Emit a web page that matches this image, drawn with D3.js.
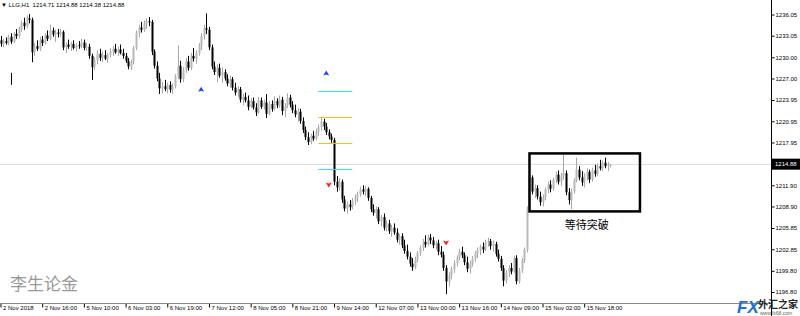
<!DOCTYPE html>
<html>
<head>
<meta charset="utf-8">
<script src="https://cdn.jsdelivr.net/npm/d3@7"></script>
<style>
  body { margin: 0; background: #fff; }
  svg { display: block; font-family: "Liberation Sans", Arial, sans-serif; }
</style>
</head>
<body>
<div id="chart"></div>
<script>
// LLG H1 bars
const opens = [
  1232.4,1231.9,1232.3,1232.0,1232.9,1232.2,1233.3,1233.0,1234.0,1234.9,
  1234.4,1235.5,1235.3,1230.7,1231.6,1231.2,1232.5,1232.0,1233.1,1232.6,
  1233.8,1233.2,1233.5,1233.3,1233.6,1231.4,1231.8,1231.5,1231.9,1231.3,
  1231.7,1231.6,1232.1,1231.3,1231.5,1230.2,1228.6,1229.6,1230.5,1229.9,
  1230.3,1229.8,1230.4,1230.8,1231.2,1230.7,1231.1,1230.6,1230.2,1229.5,
  1228.7,1229.3,1231.3,1233.4,1234.2,1233.9,1234.8,1235.1,1235.0,1230.8,
  1228.8,1227.0,1225.6,1225.9,1225.5,1226.1,1225.4,1225.9,1227.3,1228.8,
  1226.9,1228.2,1229.4,1228.5,1230.2,1229.8,1230.6,1231.6,1233.0,1234.1,
  1233.9,1231.4,1228.7,1227.9,1228.5,1227.4,1227.9,1227.0,1226.3,1226.9,
  1225.7,1225.0,1225.5,1224.0,1224.4,1223.9,1223.0,1223.8,1222.9,1222.2,
  1223.9,1223.0,1223.6,1222.0,1223.4,1222.7,1223.8,1223.2,1224.0,1222.4,
  1223.1,1224.3,1223.3,1222.5,1221.9,1222.3,1221.0,1219.7,1218.7,1218.0,
  1218.9,1218.5,1219.5,1220.1,1220.9,1220.2,1219.4,1218.8,1218.3,1212.4,
  1211.6,1212.4,1209.9,1208.6,1209.2,1208.8,1209.7,1210.2,1210.6,1211.3,
  1211.0,1211.4,1210.1,1208.5,1208.0,1208.5,1206.8,1207.4,1205.9,1206.5,
  1205.4,1205.9,1205.2,1204.2,1204.7,1203.4,1202.6,1201.8,1200.8,1200.3,
  1201.4,1202.3,1203.0,1203.9,1203.5,1204.5,1204.1,1203.4,1203.7,1202.5,
  1202.1,1200.2,1198.3,1199.2,1200.0,1200.9,1201.7,1202.5,1202.0,1201.0,
  1200.1,1200.8,1201.5,1202.2,1202.7,1203.2,1202.8,1203.8,1204.0,1203.3,
  1203.6,1202.2,1201.5,1200.2,1198.4,1199.5,1200.2,1199.7,1201.6,1198.3,
  1199.9,1201.3,1202.8,1208.5,1213.0,1211.0,1211.5,1210.3,1209.5,1210.2,
  1211.3,1212.0,1211.4,1212.7,1213.4,1212.4,1213.2,1213.6,1210.9,1209.8,
  1211.0,1212.6,1214.1,1213.0,1212.3,1213.2,1213.8,1212.7,1214.0,1213.5,
  1214.6,1214.3,1215.1,1214.6,1214.71
]
const highs = [
  1233.0,1232.6,1232.8,1233.2,1233.4,1233.6,1234.0,1234.3,1235.2,1235.6,
  1235.9,1236.1,1235.6,1232.0,1232.4,1232.9,1233.0,1233.4,1233.8,1234.6,
  1234.2,1233.9,1234.0,1234.0,1233.8,1232.1,1232.5,1232.2,1232.4,1232.0,
  1232.3,1232.6,1232.5,1232.0,1231.9,1230.5,1230.0,1231.0,1231.2,1230.8,
  1231.0,1230.6,1231.3,1231.6,1231.9,1231.5,1231.8,1231.2,1230.6,1229.9,
  1229.6,1231.6,1233.8,1234.6,1235.0,1235.2,1235.5,1235.7,1235.3,1231.1,
  1229.4,1227.8,1226.5,1226.8,1226.4,1226.6,1226.3,1227.6,1231.7,1229.5,
  1228.6,1229.9,1230.2,1230.6,1231.3,1231.0,1232.0,1233.4,1234.6,1236.2,
  1234.3,1231.8,1229.4,1229.0,1229.1,1228.6,1228.3,1227.6,1227.4,1227.2,
  1226.4,1225.9,1225.8,1224.8,1225.0,1224.6,1224.2,1224.3,1223.5,1224.4,
  1224.3,1224.0,1224.8,1223.8,1223.9,1224.5,1224.2,1224.6,1224.4,1223.5,
  1224.9,1224.7,1223.8,1223.3,1222.8,1222.7,1221.5,1220.2,1219.4,1219.2,
  1219.6,1219.9,1220.5,1221.6,1221.3,1220.7,1219.8,1219.2,1218.6,1213.2,
  1212.9,1212.7,1210.4,1209.6,1209.8,1210.1,1210.6,1211.0,1211.7,1211.9,
  1211.8,1211.6,1210.4,1209.2,1208.9,1208.8,1207.7,1207.9,1206.9,1207.0,
  1206.3,1206.5,1205.8,1205.0,1205.1,1204.2,1203.5,1202.4,1201.6,1201.8,
  1202.6,1203.4,1204.3,1204.8,1204.9,1205.0,1204.6,1204.0,1204.2,1203.3,
  1202.5,1200.6,1199.6,1200.4,1201.3,1202.0,1202.9,1203.2,1202.4,1201.8,
  1201.2,1201.9,1202.6,1203.1,1203.5,1203.8,1204.2,1204.5,1204.3,1204.1,
  1203.9,1202.8,1201.9,1200.6,1199.9,1200.6,1200.9,1201.9,1202.0,1200.2,
  1201.6,1203.1,1208.9,1213.5,1213.3,1212.0,1211.9,1211.0,1210.6,1211.6,
  1212.4,1212.6,1213.0,1213.8,1214.0,1213.6,1216.5,1214.0,1211.5,1211.4,
  1212.9,1215.8,1214.6,1213.9,1213.6,1214.3,1214.1,1214.4,1214.8,1215.0,
  1215.5,1215.4,1215.8,1215.2,1214.88
]
const lows = [
  1231.5,1231.4,1231.8,1231.7,1231.9,1232.0,1232.6,1232.7,1233.6,1233.9,
  1234.1,1234.8,1229.3,1230.2,1230.9,1230.9,1231.6,1231.8,1232.3,1232.4,
  1232.9,1232.2,1232.8,1232.9,1231.0,1230.6,1231.2,1230.9,1231.1,1230.8,
  1231.2,1231.3,1231.0,1230.9,1229.8,1226.8,1228.2,1229.0,1229.5,1229.3,
  1229.6,1229.2,1230.0,1230.2,1230.5,1230.2,1230.4,1229.8,1229.2,1228.3,
  1228.2,1229.0,1231.0,1232.8,1233.5,1233.6,1234.0,1234.4,1230.3,1228.4,
  1226.6,1224.8,1224.9,1225.2,1224.9,1225.0,1224.8,1225.6,1226.9,1226.4,
  1226.5,1227.8,1228.1,1228.2,1229.4,1229.1,1230.2,1231.0,1232.5,1233.3,
  1231.0,1228.3,1227.5,1226.5,1227.1,1226.4,1226.7,1225.9,1225.7,1225.3,
  1224.6,1224.4,1223.6,1223.2,1223.6,1222.5,1222.8,1222.6,1221.7,1222.0,
  1222.7,1222.6,1221.4,1221.8,1222.3,1222.5,1222.8,1222.9,1221.8,1221.5,
  1222.8,1222.9,1222.1,1221.5,1220.9,1220.6,1219.3,1218.3,1217.6,1217.7,
  1218.2,1218.3,1218.9,1219.6,1219.7,1219.0,1218.4,1217.9,1211.9,1211.0,
  1211.2,1209.4,1208.2,1207.9,1208.3,1208.5,1209.1,1209.5,1210.3,1210.6,
  1210.4,1209.7,1208.1,1207.6,1207.2,1206.4,1206.1,1205.5,1205.4,1205.0,
  1204.6,1204.9,1203.8,1203.5,1203.0,1202.2,1201.4,1200.4,1199.8,1200.0,
  1201.0,1201.9,1202.6,1203.1,1203.3,1203.6,1203.0,1202.8,1202.0,1201.7,
  1199.8,1196.5,1197.6,1198.6,1199.5,1200.4,1201.3,1201.6,1200.6,1199.6,
  1199.4,1200.4,1201.1,1201.6,1202.0,1202.3,1202.6,1203.2,1202.8,1202.5,
  1201.8,1201.1,1199.8,1197.6,1198.0,1198.9,1199.3,1199.5,1197.9,1198.0,
  1199.5,1200.9,1202.4,1208.1,1210.6,1210.1,1209.9,1209.0,1208.9,1209.8,
  1210.8,1210.9,1211.1,1212.2,1212.0,1211.8,1212.7,1210.5,1209.2,1208.5,
  1210.7,1212.3,1212.6,1211.8,1211.6,1212.6,1212.2,1212.4,1213.1,1213.2,
  1214.0,1213.9,1214.3,1213.9,1214.38
]
const closes = [
  1231.9,1232.3,1232.0,1232.9,1232.2,1233.3,1233.0,1234.0,1234.9,1234.4,
  1235.5,1235.3,1230.7,1231.6,1231.2,1232.5,1232.0,1233.1,1232.6,1233.8,
  1233.2,1233.5,1233.3,1233.6,1231.4,1231.8,1231.5,1231.9,1231.3,1231.7,
  1231.6,1232.1,1231.3,1231.5,1230.2,1228.6,1229.6,1230.5,1229.9,1230.3,
  1229.8,1230.4,1230.8,1231.2,1230.7,1231.1,1230.6,1230.2,1229.5,1228.7,
  1229.3,1231.3,1233.4,1234.2,1233.9,1234.8,1235.1,1235.0,1230.8,1228.8,
  1227.0,1225.6,1225.9,1225.5,1226.1,1225.4,1225.9,1227.3,1228.8,1226.9,
  1228.2,1229.4,1228.5,1230.2,1229.8,1230.6,1231.6,1233.0,1234.1,1233.9,
  1231.4,1228.7,1227.9,1228.5,1227.4,1227.9,1227.0,1226.3,1226.9,1225.7,
  1225.0,1225.5,1224.0,1224.4,1223.9,1223.0,1223.8,1222.9,1222.2,1223.9,
  1223.0,1223.6,1222.0,1223.4,1222.7,1223.8,1223.2,1224.0,1222.4,1223.1,
  1224.3,1223.3,1222.5,1221.9,1222.3,1221.0,1219.7,1218.7,1218.0,1218.9,
  1218.5,1219.5,1220.1,1220.9,1220.2,1219.4,1218.8,1218.3,1212.4,1211.6,
  1212.4,1209.9,1208.6,1209.2,1208.8,1209.7,1210.2,1210.6,1211.3,1211.0,
  1211.4,1210.1,1208.5,1208.0,1208.5,1206.8,1207.4,1205.9,1206.5,1205.4,
  1205.9,1205.2,1204.2,1204.7,1203.4,1202.6,1201.8,1200.8,1200.3,1201.4,
  1202.3,1203.0,1203.9,1203.5,1204.5,1204.1,1203.4,1203.7,1202.5,1202.1,
  1200.2,1198.3,1199.2,1200.0,1200.9,1201.7,1202.5,1202.0,1201.0,1200.1,
  1200.8,1201.5,1202.2,1202.7,1203.2,1202.8,1203.8,1204.0,1203.3,1203.6,
  1202.2,1201.5,1200.2,1198.4,1199.5,1200.2,1199.7,1201.6,1198.3,1199.9,
  1201.3,1202.8,1208.5,1213.0,1211.0,1211.5,1210.3,1209.5,1210.2,1211.3,
  1212.0,1211.4,1212.7,1213.4,1212.4,1213.2,1213.6,1210.9,1209.8,1211.0,
  1212.6,1214.1,1213.0,1212.3,1213.2,1213.8,1212.7,1214.0,1213.5,1214.6,
  1214.3,1215.1,1214.6,1214.7,1214.88
]

// time axis labels, one every 16 bars
const timeTickBars = [0, 16, 32, 48, 64, 80, 96, 112, 128, 144, 160, 176, 192, 208, 224]
const timeTickLabels = ['2 Nov 2018', '2 Nov 16:00', '5 Nov 10:00', '6 Nov 03:00', '6 Nov 19:00',
  '7 Nov 12:00', '8 Nov 05:00', '8 Nov 21:00', '9 Nov 14:00', '12 Nov 07:00',
  '13 Nov 00:00', '13 Nov 16:00', '14 Nov 09:00', '15 Nov 02:00', '15 Nov 18:00']

const priceTicks = [1236.05, 1233.05, 1230.00, 1227.00, 1223.95, 1220.95, 1217.95,
  1211.90, 1208.90, 1205.85, 1202.85, 1199.80, 1196.80]
const lastPrice = 1214.88

// drawn objects on the chart
const upArrowBars = [77, 125]
const upArrowPrices = [1225.4, 1227.7]
const downArrowBars = [126, 171]
const downArrowPrices = [1212.0, 1203.8]
const cyanLevels = [1225.2, 1214.2]
const goldLevels = [1221.6, 1217.9]
const levelBars = [122, 135]
const boxBars = [203, 245.4]
const boxPrices = [1216.4, 1208.2]
const markBar = 4
const markPrices = [1227.8, 1226.1]

const width = 800
const height = 316
const plotRight = 771
const plotBottom = 303

const svg = d3
  .select('#chart')
  .append('svg')
  .attr('width', width)
  .attr('height', height)

const xPositionScale = d3.scaleLinear().domain([0, 224]).range([0.5, 584.2])
const yPositionScale = d3
  .scaleLinear()
  .domain([1196.8, 1236.05])
  .range([292, 14.5])

svg
  .append('defs')
  .append('clipPath')
  .attr('id', 'plot-clip')
  .append('rect')
  .attr('width', plotRight)
  .attr('height', plotBottom)

const plot = svg.append('g').attr('clip-path', 'url(#plot-clip)')

// last price line
plot
  .append('line')
  .attr('x1', 0)
  .attr('x2', plotRight)
  .attr('y1', Math.round(yPositionScale(lastPrice)) + 0.5)
  .attr('y2', Math.round(yPositionScale(lastPrice)) + 0.5)
  .attr('stroke', '#dcdcdc')

// watermark
plot
  .append('text')
  .text('李生论金')
  .attr('x', 10)
  .attr('y', 290)
  .attr('font-family', '"Noto Sans CJK SC"')
  .attr('font-size', 17)
  .attr('fill', '#9a9a9a')

const bars = d3.range(closes.length)

plot
  .selectAll('.wick')
  .data(bars)
  .enter()
  .append('line')
  .attr('class', 'wick')
  .attr('x1', i => Math.round(xPositionScale(i)) + 0.5)
  .attr('x2', i => Math.round(xPositionScale(i)) + 0.5)
  .attr('y1', i => yPositionScale(highs[i]))
  .attr('y2', i => yPositionScale(lows[i]))
  .attr('stroke', i => (closes[i] >= opens[i] ? '#a8a8a8' : '#000'))
  .attr('stroke-width', 1)

plot
  .selectAll('.body')
  .data(bars)
  .enter()
  .append('rect')
  .attr('class', 'body')
  .attr('x', i => Math.round(xPositionScale(i)) - 0.5)
  .attr('width', 2)
  .attr('y', i => yPositionScale(Math.max(opens[i], closes[i])))
  .attr('height', i =>
    Math.max(1, Math.abs(yPositionScale(opens[i]) - yPositionScale(closes[i])))
  )
  .attr('fill', i => (closes[i] >= opens[i] ? '#b8b8b8' : '#000'))

// small vertical mark near the start
plot
  .append('line')
  .attr('x1', Math.round(xPositionScale(markBar)) + 0.5)
  .attr('x2', Math.round(xPositionScale(markBar)) + 0.5)
  .attr('y1', yPositionScale(markPrices[0]))
  .attr('y2', yPositionScale(markPrices[1]))
  .attr('stroke', '#000')

// level lines
cyanLevels.forEach(p => {
  plot
    .append('line')
    .attr('x1', xPositionScale(levelBars[0]))
    .attr('x2', xPositionScale(levelBars[1]))
    .attr('y1', Math.round(yPositionScale(p)) + 0.5)
    .attr('y2', Math.round(yPositionScale(p)) + 0.5)
    .attr('stroke', '#33e0f0')
})
goldLevels.forEach(p => {
  plot
    .append('line')
    .attr('x1', xPositionScale(levelBars[0]))
    .attr('x2', xPositionScale(levelBars[1]))
    .attr('y1', Math.round(yPositionScale(p)) + 0.5)
    .attr('y2', Math.round(yPositionScale(p)) + 0.5)
    .attr('stroke', '#f0c020')
})

// arrows
plot
  .selectAll('.up-arrow')
  .data(upArrowBars)
  .enter()
  .append('path')
  .attr('class', 'up-arrow')
  .attr('transform', (d, i) =>
    'translate(' + xPositionScale(d) + ',' + yPositionScale(upArrowPrices[i]) + ')'
  )
  .attr('d', 'M0,-3 L3,2 L0,1 L-3,2 Z')
  .attr('fill', '#2040ff')

plot
  .selectAll('.down-arrow')
  .data(downArrowBars)
  .enter()
  .append('path')
  .attr('class', 'down-arrow')
  .attr('transform', (d, i) =>
    'translate(' + xPositionScale(d) + ',' + yPositionScale(downArrowPrices[i]) + ')'
  )
  .attr('d', 'M0,3 L3,-2 L0,-1 L-3,-2 Z')
  .attr('fill', '#ff2020')

// box around the consolidation
plot
  .append('rect')
  .attr('x', xPositionScale(boxBars[0]))
  .attr('y', yPositionScale(boxPrices[0]))
  .attr('width', xPositionScale(boxBars[1]) - xPositionScale(boxBars[0]))
  .attr('height', yPositionScale(boxPrices[1]) - yPositionScale(boxPrices[0]))
  .attr('fill', 'none')
  .attr('stroke', '#000')
  .attr('stroke-width', 2.5)

plot
  .append('text')
  .text('等待突破')
  .attr('x', (xPositionScale(boxBars[0]) + xPositionScale(boxBars[1])) / 2 + 2)
  .attr('y', yPositionScale(boxPrices[1]) + 18)
  .attr('text-anchor', 'middle')
  .attr('font-family', '"Noto Sans CJK SC"')
  .attr('font-size', 11)
  .attr('fill', '#000')

// header
svg
  .append('text')
  .text('▼ LLG,H1  1214.71 1214.88 1214.38 1214.88')
  .attr('x', 1)
  .attr('y', 6.5)
  .attr('font-size', 6)
  .attr('xml:space', 'preserve')
  .attr('fill', '#000')

// price axis
const yAxis = d3
  .axisRight(yPositionScale)
  .tickValues(priceTicks)
  .tickSize(3)
  .tickFormat(d3.format('.2f'))
svg
  .append('g')
  .attr('class', 'axis y-axis')
  .attr('transform', 'translate(' + (plotRight + 0.5) + ',0)')
  .call(yAxis)

svg.selectAll('.y-axis path').remove()
svg.selectAll('.y-axis text').attr('font-size', 6).attr('fill', '#000').attr('x', 4)
svg.selectAll('.y-axis line').attr('stroke', '#000')

svg
  .append('line')
  .attr('x1', plotRight + 0.5)
  .attr('x2', plotRight + 0.5)
  .attr('y1', 0)
  .attr('y2', height)
  .attr('stroke', '#000')

// last price tag
svg
  .append('rect')
  .attr('x', plotRight + 1)
  .attr('y', yPositionScale(lastPrice) - 5.5)
  .attr('width', width - plotRight - 1)
  .attr('height', 11)
  .attr('fill', '#000')
svg
  .append('text')
  .text(d3.format('.2f')(lastPrice))
  .attr('x', plotRight + 4)
  .attr('y', yPositionScale(lastPrice) + 2.2)
  .attr('font-size', 6)
  .attr('fill', '#fff')

// time axis
const xAxis = d3
  .axisBottom(xPositionScale)
  .tickValues(timeTickBars)
  .tickSize(4)
  .tickFormat((d, i) => timeTickLabels[i])
svg
  .append('g')
  .attr('class', 'axis x-axis')
  .attr('transform', 'translate(0,' + (plotBottom + 0.5) + ')')
  .call(xAxis)

svg.selectAll('.x-axis path').remove()
svg.selectAll('.x-axis line').attr('stroke', '#000')
svg
  .selectAll('.x-axis text')
  .attr('font-size', 6)
  .attr('fill', '#000')
  .attr('text-anchor', 'start')
  .attr('x', 2)
  .attr('y', 2)

svg
  .append('line')
  .attr('x1', 0)
  .attr('x2', plotRight)
  .attr('y1', plotBottom + 0.5)
  .attr('y2', plotBottom + 0.5)
  .attr('stroke', '#888')

// site logo, bottom right
svg
  .append('text')
  .text('FX')
  .attr('x', 737)
  .attr('y', 313)
  .attr('font-size', 17)
  .attr('font-weight', 'bold')
  .attr('font-style', 'italic')
  .attr('fill', '#1f6fd6')
svg
  .append('text')
  .text('外汇之家')
  .attr('x', 758)
  .attr('y', 308)
  .attr('font-family', '"Noto Sans CJK SC"')
  .attr('font-size', 10)
  .attr('font-weight', 'bold')
  .attr('fill', '#222')
svg
  .append('text')
  .text('www.fx68.com')
  .attr('x', 760)
  .attr('y', 315)
  .attr('font-size', 5)
  .attr('fill', '#666')
</script>
</body>
</html>
